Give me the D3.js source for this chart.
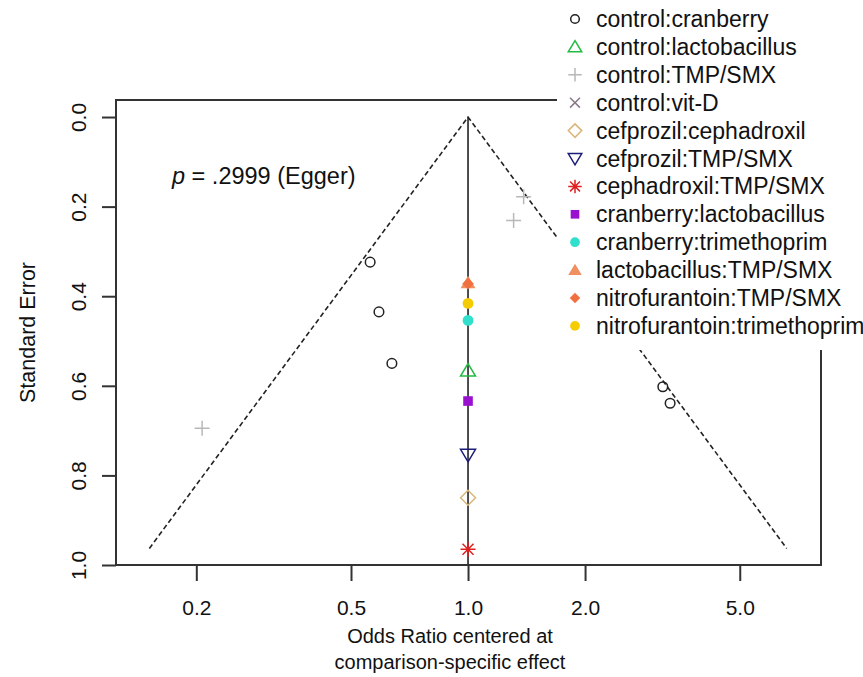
<!DOCTYPE html>
<html><head><meta charset="utf-8">
<script src="https://cdn.jsdelivr.net/npm/d3@7"></script>
<style>body{margin:0;background:#fff}svg{display:block;font-family:"Liberation Sans",Arial,sans-serif}</style>
</head><body>
<svg id="chart" width="863" height="677"></svg>
<script>
// ---- data ----
const comparisons = ["control:cranberry","control:lactobacillus","control:TMP/SMX","control:vit-D","cefprozil:cephadroxil","cefprozil:TMP/SMX","cephadroxil:TMP/SMX","cranberry:lactobacillus","cranberry:trimethoprim","lactobacillus:TMP/SMX","nitrofurantoin:TMP/SMX","nitrofurantoin:trimethoprim"];
const symbols = ["circleOpen","triangleOpen","plus","cross","diamondOpen","triangleDownOpen","asterisk","squareFilled","circleFilled","triangleFilled","diamondSmallFilled","circleFilled"];
const colors = ["#222222","#22bb44","#b8b8b8","#8a7a8a","#d9b77a","#1c1c7a","#e02020","#9a10d0","#30e0cc","#f09060","#f07040","#f5cc00"];
// points: comparison index, odds ratio (centered), standard error
const pointComp = [0,0,0,0,0, 2,2,2, 9,10,11,8,1,7,5,4,6];
const pointOR   = [0.56,0.59,0.637,3.17,3.31, 1.39,1.31,0.207, 1,1,1,1,1,1,1,1,1];
const pointSE   = [0.324,0.435,0.550,0.602,0.639, 0.178,0.231,0.695, 0.370,0.372,0.416,0.454,0.566,0.634,0.754,0.850,0.965];
const xTicks = [0.2,0.5,1.0,2.0,5.0];
const yTicks = [0.0,0.2,0.4,0.6,0.8,1.0];
const maxSE = 0.963;
const eggerText = ".2999 (Egger)";

// ---- layout ----
const svg = d3.select("#chart");
const L=116, R=821, T=100, B=565;
const x = d3.scaleLog().domain([0.1243, 8.09]).range([L,R]);
const y = d3.scaleLinear().domain([-0.038, 1.0]).range([T,B]);

function sym(g, type, col, s){
  s = s||1;
  const sw = 1.5;
  if(type==="circleOpen") g.append("circle").attr("r",4.8*s).attr("fill","none").attr("stroke",col).attr("stroke-width",sw);
  else if(type==="circleFilled") g.append("circle").attr("r",5.4*s).attr("fill",col);
  else if(type==="triangleOpen") g.append("path").attr("d",`M0,${-7*s}L${7.5*s},${5.5*s}L${-7.5*s},${5.5*s}Z`).attr("fill","none").attr("stroke",col).attr("stroke-width",sw);
  else if(type==="triangleFilled") g.append("path").attr("d",`M0,${-7*s}L${7.5*s},${5.5*s}L${-7.5*s},${5.5*s}Z`).attr("fill",col);
  else if(type==="triangleDownOpen") g.append("path").attr("d",`M0,${7*s}L${7.5*s},${-5.5*s}L${-7.5*s},${-5.5*s}Z`).attr("fill","none").attr("stroke",col).attr("stroke-width",sw);
  else if(type==="plus") g.append("path").attr("d",`M${-7.5*s},0H${7.5*s}M0,${-7.5*s}V${7.5*s}`).attr("stroke",col).attr("stroke-width",sw);
  else if(type==="cross") g.append("path").attr("d",`M${-5.5*s},${-5.5*s}L${5.5*s},${5.5*s}M${-5.5*s},${5.5*s}L${5.5*s},${-5.5*s}`).attr("stroke",col).attr("stroke-width",sw);
  else if(type==="diamondOpen") g.append("path").attr("d",`M0,${-7.5*s}L${7.5*s},0L0,${7.5*s}L${-7.5*s},0Z`).attr("fill","none").attr("stroke",col).attr("stroke-width",sw);
  else if(type==="diamondSmallFilled") g.append("path").attr("d",`M0,${-5.8*s}L${5.8*s},0L0,${5.8*s}L${-5.8*s},0Z`).attr("fill",col);
  else if(type==="squareFilled") g.append("rect").attr("x",-4.8*s).attr("y",-4.8*s).attr("width",9.6*s).attr("height",9.6*s).attr("fill",col);
  else if(type==="asterisk") g.append("path").attr("d",`M${-7.5*s},0H${7.5*s}M0,${-7.5*s}V${7.5*s}M${-5.5*s},${-5.5*s}L${5.5*s},${5.5*s}M${-5.5*s},${5.5*s}L${5.5*s},${-5.5*s}`).attr("stroke",col).attr("stroke-width",sw);
}

// funnel
const k = 1.96;
const funnelPts = [[Math.exp(-k*maxSE), maxSE],[1,0],[Math.exp(k*maxSE), maxSE]];
svg.append("path").attr("d", d3.line().x(d=>x(d[0])).y(d=>y(d[1]))(funnelPts))
  .attr("fill","none").attr("stroke","#222").attr("stroke-width",1.6).attr("stroke-dasharray","5,3");
svg.append("line").attr("x1",x(1)).attr("x2",x(1)).attr("y1",y(0)).attr("y2",y(1)).attr("stroke","#222").attr("stroke-width",1.6);

// points
pointComp.forEach((c,i)=>{
  const g = svg.append("g").attr("transform",`translate(${x(pointOR[i])},${y(pointSE[i])})`);
  sym(g, symbols[c], colors[c]);
});

// box
svg.append("rect").attr("x",L).attr("y",T).attr("width",R-L).attr("height",B-T).attr("fill","none").attr("stroke","#333").attr("stroke-width",2);

// axes
const xa = svg.append("g").attr("transform",`translate(0,${B})`)
  .call(d3.axisBottom(x).tickValues(xTicks).tickFormat(d3.format(".1f")).tickSize(16).tickPadding(19));
const ya = svg.append("g").attr("transform",`translate(${L},0)`)
  .call(d3.axisLeft(y).tickValues(yTicks).tickFormat(d3.format(".1f")).tickSize(14).tickPadding(8));
[xa,ya].forEach(a=>{a.select(".domain").remove(); a.selectAll("line").attr("stroke","#333").attr("stroke-width",2);
  a.selectAll("text").attr("font-size",21).attr("fill","#111").attr("font-family","'Liberation Sans',Arial,sans-serif");});
ya.selectAll("text").attr("x",0).attr("y",0).attr("dy",0)
  .attr("transform","translate(-30,0) rotate(-90)").attr("text-anchor","middle");

// axis titles
svg.append("text").attr("x",450).attr("y",643).attr("text-anchor","middle").attr("font-size",20).attr("fill","#111").text("Odds Ratio centered at");
svg.append("text").attr("x",450).attr("y",669).attr("text-anchor","middle").attr("font-size",20).attr("fill","#111").text("comparison-specific effect");
svg.append("text").attr("transform",`translate(35,${(T+B)/2}) rotate(-90)`).attr("text-anchor","middle").attr("font-size",21.5).attr("fill","#111").text("Standard Error");

// egger
const et = svg.append("text").attr("x",172).attr("y",184).attr("font-size",23.5).attr("fill","#111");
et.append("tspan").attr("font-style","italic").text("p");
et.append("tspan").text(" = "+eggerText);

// legend
const lg = svg.append("g");
lg.append("rect").attr("x",557).attr("y",0).attr("width",306).attr("height",350).attr("fill","#fff");
comparisons.forEach((c,i)=>{
  const yy = 19 + 27.9*i;
  const g = lg.append("g").attr("transform",`translate(575,${yy})`);
  sym(g, symbols[i], colors[i], 0.9);
  lg.append("text").attr("x",596).attr("y",yy).attr("dy","0.35em").attr("font-size",23).attr("fill","#111").text(c);
});
</script>
</body></html>
